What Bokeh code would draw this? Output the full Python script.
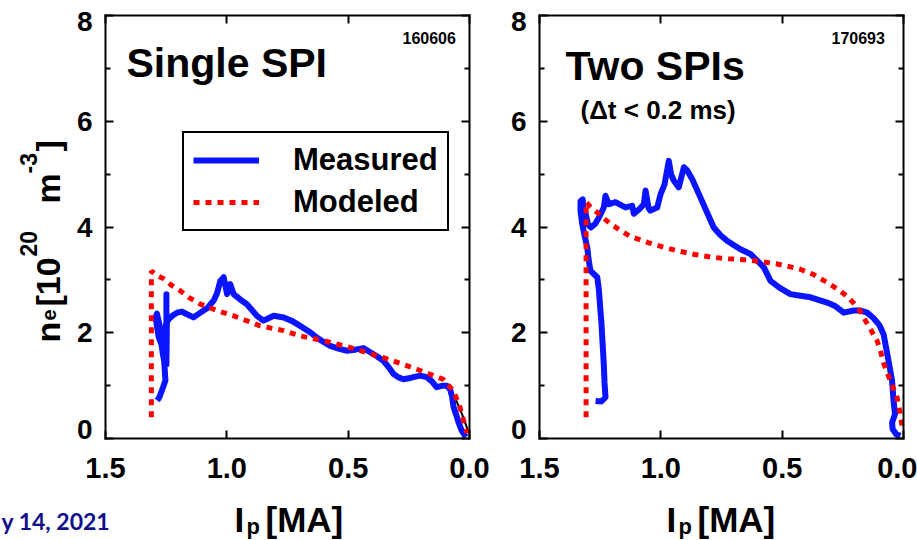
import math
from bokeh.plotting import figure
from bokeh.models import (Range1d, FixedTicker, LinearAxis, Label, Legend,
                          LegendItem, PrintfTickFormatter)
from bokeh.embed import file_html
from bokeh.resources import INLINE

# ---------------- data (Ip in MA, ne in 1e20 m^-3) ----------------
# Panel 1: Single SPI, shot 160606
ip1_meas = [1.287, 1.278, 1.262, 1.253, 1.258, 1.267, 1.281, 1.294, 1.288, 1.276,
            1.270, 1.262, 1.255, 1.249, 1.249, 1.249, 1.247, 1.239, 1.222, 1.205,
            1.185, 1.164, 1.137, 1.109, 1.080, 1.054, 1.040, 1.027, 1.013, 0.999,
            0.986, 0.972, 0.945, 0.917, 0.876, 0.849, 0.830, 0.807, 0.766, 0.730,
            0.698, 0.660, 0.629, 0.600, 0.574, 0.540, 0.505, 0.470, 0.437, 0.409,
            0.380, 0.355, 0.330, 0.313, 0.290, 0.272, 0.240, 0.204, 0.176, 0.155,
            0.135, 0.110, 0.094, 0.080, 0.072, 0.066, 0.055, 0.045, 0.032, 0.015]
ne1_meas = [0.72, 0.78, 0.98, 1.10, 1.45, 1.75, 1.92, 2.30, 2.36, 2.12,
            1.80, 1.55, 2.00, 2.20, 2.73, 1.40, 2.20, 2.26, 2.33, 2.38,
            2.40, 2.35, 2.29, 2.38, 2.47, 2.61, 2.75, 2.98, 3.05, 2.73,
            2.92, 2.73, 2.63, 2.54, 2.32, 2.23, 2.27, 2.32, 2.29, 2.22,
            2.13, 2.02, 1.91, 1.82, 1.75, 1.70, 1.66, 1.68, 1.71, 1.63,
            1.55, 1.47, 1.33, 1.22, 1.15, 1.12, 1.15, 1.19, 1.16, 1.08,
            0.97, 1.00, 1.00, 0.93, 0.80, 0.60, 0.45, 0.30, 0.15, 0.03]
ip1_mod = [1.311, 1.311, 1.295, 1.260, 1.226, 1.191, 1.157, 1.109, 1.040, 0.972,
           0.862, 0.766, 0.698, 0.602, 0.492, 0.355, 0.217, 0.108, 0.066, 0.040, 0.010]
ne1_mod = [0.40, 3.17, 3.10, 3.02, 2.89, 2.79, 2.67, 2.54, 2.42, 2.32,
           2.13, 2.04, 1.94, 1.85, 1.72, 1.53, 1.31, 1.12, 0.90, 0.60, 0.10]
ip1_other = [0.062, 0.030, 0.004]
ne1_other = [0.80, 0.45, 0.12]

# Panel 2: Two SPIs, shot 170693
ip2_meas = [1.269, 1.245, 1.228, 1.232, 1.235, 1.240, 1.245, 1.249, 1.255, 1.262,
            1.278, 1.290, 1.298, 1.303, 1.315, 1.324, 1.331, 1.331, 1.322, 1.318,
            1.310, 1.300, 1.288, 1.270, 1.255, 1.235, 1.228, 1.214, 1.187, 1.166,
            1.146, 1.118, 1.111, 1.090, 1.070, 1.063, 1.050, 1.043, 1.015, 1.001,
            0.985, 0.967, 0.958, 0.947, 0.926, 0.905, 0.891, 0.870, 0.837, 0.810,
            0.782, 0.755, 0.727, 0.700, 0.672, 0.631, 0.600, 0.576, 0.548, 0.510,
            0.466, 0.425, 0.383, 0.315, 0.280, 0.246, 0.205, 0.177, 0.150, 0.124,
            0.100, 0.082, 0.067, 0.055, 0.047, 0.041, 0.035, 0.047, 0.045, 0.030, 0.013]
ne2_meas = [0.71, 0.70, 0.78, 1.05, 1.40, 1.80, 2.20, 2.42, 2.80, 3.05,
            3.12, 3.17, 3.40, 3.61, 3.85, 4.06, 4.30, 4.49, 4.52, 4.30,
            4.25, 4.05, 3.99, 4.06, 4.18, 4.37, 4.59, 4.43, 4.47, 4.42,
            4.37, 4.40, 4.25, 4.33, 4.43, 4.69, 4.35, 4.31, 4.37, 4.62,
            4.80, 5.25, 5.00, 4.88, 4.75, 5.13, 5.07, 4.90, 4.56, 4.28,
            3.99, 3.85, 3.74, 3.66, 3.58, 3.49, 3.35, 3.24, 2.98, 2.85,
            2.73, 2.70, 2.67, 2.57, 2.50, 2.38, 2.42, 2.42, 2.38, 2.28,
            2.15, 1.97, 1.60, 1.30, 1.09, 0.71, 0.46, 0.30, 0.18, 0.08, 0.05]
ip2_mod = [1.308, 1.308, 1.290, 1.269, 1.240, 1.207, 1.165, 1.125, 1.056, 0.990,
           0.933, 0.860, 0.795, 0.720, 0.658, 0.590, 0.521, 0.470, 0.425, 0.370,
           0.315, 0.270, 0.235, 0.205, 0.180, 0.157, 0.129, 0.109, 0.095, 0.081,
           0.054, 0.027, 0.013, 0.005]
ne2_mod = [0.40, 4.47, 4.38, 4.30, 4.18, 4.06, 3.93, 3.82, 3.71, 3.62,
           3.55, 3.48, 3.43, 3.40, 3.38, 3.35, 3.30, 3.25, 3.20, 3.10,
           2.95, 2.82, 2.70, 2.56, 2.42, 2.23, 2.01, 1.85, 1.66, 1.41,
           1.09, 0.78, 0.46, 0.20]

x_ticks = [0.0, 0.5, 1.0, 1.5]
y_ticks = [0, 2, 4, 6, 8]
y_minor = [1, 3, 5, 7]
y_end_labels = ["0", "8"]          # end labels, drawn nudged inward as in the original
x_lim = (1.5, 0.0)
y_lim = (0.0, 8.0)

BLUE = "#0a14ff"
RED = "#ff0000"
SANS = "Liberation Sans"
MID = (0.905 - 0.212) / 2        # baseline -> centre of text box, in em

# ---------------- canvas geometry (pixels) ----------------
W, H = 917, 540
TOP, BOT = 15, 438               # panel top / bottom (both panels)
P1_L, P1_R = 105, 469            # panel 1 left / right
P2_L, P2_R = 539, 903            # panel 2 left / right


def span_range(left_px, right_px, lo, hi):
    """Range covering the full canvas so that lo..hi maps onto left_px..right_px."""
    scale = (hi - lo) / (right_px - left_px)
    return Range1d(lo - left_px * scale, hi + (W - right_px) * scale)


y_scale = (y_lim[1] - y_lim[0]) / (BOT - TOP)
y_full = Range1d(y_lim[0] - (H - BOT) * y_scale, y_lim[1] + TOP * y_scale)

p = figure(width=W, height=H, x_range=span_range(P1_L, P1_R, x_lim[0], x_lim[1]),
           y_range=y_full, output_backend="svg", toolbar_location=None,
           x_axis_location=None, y_axis_location=None,
           min_border=0, min_border_left=0, min_border_right=0,
           min_border_top=0, min_border_bottom=0, title=None)
p.extra_x_ranges = {"r2": span_range(P2_L, P2_R, x_lim[0], x_lim[1])}
p.outline_line_color = None
p.grid.visible = False
p.background_fill_color = "white"
p.border_fill_color = "white"


def style_axis(ax, labels, size=None, standoff=0):
    ax.axis_line_width = 2
    ax.axis_line_color = "black"
    ax.axis_line_cap = "square"
    ax.major_tick_in = 8
    ax.major_tick_out = 0
    ax.minor_tick_in = 5
    ax.minor_tick_out = 0
    ax.major_tick_line_width = 2
    ax.minor_tick_line_width = 2
    ax.major_label_text_font = SANS
    ax.major_label_text_font_style = "bold"
    ax.major_label_text_color = "black"
    ax.axis_label = None
    if labels:
        ax.major_label_text_font_size = size
        ax.major_label_standoff = standoff
    else:
        ax.major_label_text_font_size = "0px"
        ax.major_label_text_alpha = 0


def add_axes(rname):
    kw = {} if rname is None else {"x_range_name": rname}
    bottom = LinearAxis(ticker=FixedTicker(ticks=x_ticks), formatter=PrintfTickFormatter(format="%.1f"),
                        fixed_location=y_lim[0], bounds=(x_lim[1], x_lim[0]), **kw)
    top = LinearAxis(ticker=FixedTicker(ticks=x_ticks), fixed_location=y_lim[1],
                     bounds=(x_lim[1], x_lim[0]), **kw)
    left = LinearAxis(ticker=FixedTicker(ticks=y_ticks, minor_ticks=y_minor),
                      fixed_location=x_lim[0], bounds=y_lim, **kw)
    right = LinearAxis(ticker=FixedTicker(ticks=y_ticks, minor_ticks=y_minor),
                       fixed_location=x_lim[1], bounds=y_lim, **kw)
    style_axis(bottom, True, "29px", 19)
    style_axis(left, True, "28px", 13)
    left.major_label_overrides = {float(v): "" for v in y_end_labels}
    style_axis(top, False)
    style_axis(right, False)
    p.add_layout(bottom, "below")
    p.add_layout(top, "above")
    p.add_layout(left, "left")
    p.add_layout(right, "right")


add_axes(None)
add_axes("r2")


def txt(x, y, s, size, font=SANS, style="bold", color="black", rotated=False, align="left"):
    """Text whose baseline starts at canvas pixel (x, y) (y from top).
    rotated=True: text reads upward, baseline is the vertical line at x, starting at y."""
    if rotated:
        sx, sy, ang = x - MID * size, H - y, math.pi / 2
    else:
        sx, sy, ang = x, H - (y - MID * size), 0.0
    p.add_layout(Label(x=sx, y=sy, x_units="screen", y_units="screen", text=s,
                       text_font=font, text_font_size=f"{size}px", text_font_style=style,
                       text_color=color, angle=ang, text_align=align,
                       text_baseline="middle"))


# nudged end labels of the y axes (0 raised, 8 lowered)
for xr in (P1_L - 13, P2_L - 13):
    txt(xr, 439, y_end_labels[0], 28, align="right")
    txt(xr, 31, y_end_labels[1], 28, align="right")

# ---------------- panel 1 ----------------
b1 = p.line(ip1_meas, ne1_meas, line_color=BLUE, line_width=6, line_join="round")
p.line(ip1_other, ne1_other, line_color="black", line_width=2)
r1 = p.line(ip1_mod, ne1_mod, line_color=RED, line_width=5, line_dash="6 6")

legend = Legend(items=[LegendItem(label="Measured", renderers=[b1]),
                       LegendItem(label="Modeled", renderers=[r1])],
                location=(182, H - 231), border_line_color="black", border_line_width=2,
                border_line_alpha=1.0, padding=9, spacing=6, glyph_width=66,
                glyph_height=36, label_height=36, label_standoff=34,
                label_text_font=SANS, label_text_font_style="bold",
                label_text_color="black", label_text_font_size="31px", margin=0,
                background_fill_color="white", background_fill_alpha=1.0)
p.add_layout(legend)

txt(126, 77, "Single SPI", 41)
txt(402, 43, "160606", 16)

# x-axis labels: I_p [MA]
for x0 in (234, 666):
    txt(x0, 531, "I", 35)
    txt(x0 + 12, 534, "p", 22)
    txt(x0 + 31, 531, "[MA]", 35)

# y-axis label: n_e [10^20 m^-3]  (rotated, reading upward)
txt(59, 342, "n", 34, rotated=True)
txt(55, 320, "e", 20, rotated=True)
txt(59, 306, "[10", 34, rotated=True)
txt(36, 256, "20", 23, rotated=True)
txt(59, 203, "m", 34, rotated=True)
txt(36, 173, "-3", 23, rotated=True)
txt(59, 151, "]", 34, rotated=True)

txt(1, 528, "y 14, 2021", 23, font="Lato", color="#10108c")

# ---------------- panel 2 ----------------
p.line(ip2_meas, ne2_meas, line_color=BLUE, line_width=6, line_join="round", x_range_name="r2")
p.line(ip2_mod, ne2_mod, line_color=RED, line_width=5, line_dash="6 6", x_range_name="r2")
txt(565, 80, "Two SPIs", 41)
txt(580, 119, "(\u0394t < 0.2 ms)", 26)
txt(831, 43, "170693", 16)

open("out.html", "w").write(file_html(p, INLINE))
